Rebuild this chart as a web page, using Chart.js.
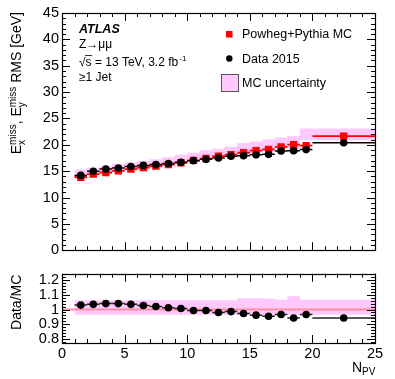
<!DOCTYPE html>
<html>
<head>
<meta charset="utf-8">
<script src="https://cdn.jsdelivr.net/npm/chart.js@4.4.0/dist/chart.umd.min.js"></script>
<style>
  html, body { margin: 0; padding: 0; background: #fff; }
  #wrap { position: relative; width: 395px; height: 379px; }
  #main { position: absolute; left: 0; top: 0; }
  #ratio { position: absolute; left: 0; top: 262px; }
</style>
</head>
<body>
<div id="wrap">
  <canvas id="main" width="395" height="262"></canvas>
  <canvas id="ratio" width="395" height="117"></canvas>
</div>
<script>
// N_PV bins
const binLo = [1, 2, 3, 4, 5, 6, 7, 8, 9, 10, 11, 12, 13, 14, 15, 16, 17, 18, 19, 20];
const binHi = [2, 3, 4, 5, 6, 7, 8, 9, 10, 11, 12, 13, 14, 15, 16, 17, 18, 19, 20, 25];
const binCentre = [1.5, 2.5, 3.5, 4.5, 5.5, 6.5, 7.5, 8.5, 9.5, 10.5, 11.5, 12.5, 13.5, 14.5, 15.5, 16.5, 17.5, 18.5, 19.5, 22.5];

// E_miss RMS [GeV]
const dataRms = [14.2, 15.0, 15.4, 15.6, 15.9, 16.1, 16.25, 16.45, 16.7, 17.0, 17.25, 17.5, 17.85, 17.95, 18.1, 18.2, 18.85, 18.9, 19.1, 20.4];
const mcRms = [13.85, 14.45, 14.75, 15.05, 15.4, 15.7, 15.95, 16.25, 16.6, 17.05, 17.4, 17.85, 18.15, 18.5, 18.9, 19.15, 19.6, 20.05, 19.85, 21.65];

// Data/MC and MC uncertainty band (relative)
const ratio = [1.03, 1.035, 1.04, 1.04, 1.035, 1.027, 1.02, 1.012, 1.007, 0.993, 0.993, 0.98, 0.986, 0.973, 0.962, 0.955, 0.966, 0.943, 0.966, 0.943];
const uncUp = [1.077, 1.062, 1.062, 1.062, 1.062, 1.062, 1.062, 1.062, 1.062, 1.062, 1.062, 1.062, 1.062, 1.062, 1.077, 1.077, 1.072, 1.066, 1.09, 1.066];
const uncDown = [0.966, 0.964, 0.964, 0.964, 0.964, 0.964, 0.964, 0.964, 0.964, 0.964, 0.964, 0.964, 0.964, 0.964, 0.964, 0.964, 0.964, 0.964, 0.964, 0.964];

const topTicks = [0, 5, 10, 15, 20, 25, 30, 35, 40, 45];
const ratioTicks = [0.8, 0.9, 1, 1.1, 1.2];

const FONT = "'Liberation Sans', Arial, Helvetica, sans-serif";
const PINK = "#ffc8ff";
Chart.defaults.font.family = FONT;
Chart.defaults.color = "#000";

// step edges for the band: bin low edges plus the last high edge
function bandPoints(vals) {
  const pts = binLo.map((lo, i) => ({ x: lo, y: vals[i] }));
  pts.push({ x: binHi[binHi.length - 1], y: vals[vals.length - 1] });
  return pts;
}
// horizontal bars spanning each bin
function binBars(vals) {
  const pts = [];
  vals.forEach((v, i) => {
    pts.push({ x: binLo[i], y: v }, { x: binHi[i], y: v }, { x: binHi[i], y: null });
  });
  return pts;
}
function points(vals) {
  return vals.map((v, i) => ({ x: binCentre[i], y: v }));
}

// ROOT style frame with inward ticks on all sides
const frameTicks = {
  id: "frameTicks",
  afterDraw(chart, args, o) {
    const { ctx, chartArea: a } = chart;
    const x = chart.scales.x, y = chart.scales.y;
    ctx.save();
    ctx.strokeStyle = "#000";
    ctx.lineWidth = 1;
    ctx.beginPath();
    for (let i = 0; i <= 25; i++) {
      const px = Math.round(x.getPixelForValue(i)) + 0.5;
      const len = i % 5 === 0 ? 8 : 4;
      ctx.moveTo(px, a.bottom); ctx.lineTo(px, a.bottom - len);
      ctx.moveTo(px, a.top); ctx.lineTo(px, a.top + len);
    }
    for (let k = o.kFrom; k <= o.kTo; k++) {
      const py = Math.round(y.getPixelForValue(k * o.step)) + 0.5;
      const len = k % o.every === 0 ? 8 : 4;
      ctx.moveTo(a.left, py); ctx.lineTo(a.left + len, py);
      ctx.moveTo(a.right, py); ctx.lineTo(a.right - len, py);
    }
    ctx.stroke();
    ctx.lineWidth = 1.2;
    ctx.strokeRect(Math.round(a.left) + 0.5, Math.round(a.top) + 0.5,
      Math.round(a.right - a.left), Math.round(a.bottom - a.top));
    ctx.restore();
  }
};

// texts, legend and axis titles of the main pad
const mainTexts = {
  id: "mainTexts",
  afterDraw(chart) {
    const ctx = chart.ctx;
    ctx.save();
    ctx.fillStyle = "#000";
    ctx.textBaseline = "alphabetic";
    ctx.font = "bold italic 12.5px " + FONT;
    ctx.fillText("ATLAS", 79, 33);
    ctx.font = "12px " + FONT;
    ctx.fillText("Z\u2192\u03bc\u03bc", 79, 48);
    const rad = ctx.measureText("\u221a").width;
    const sw = ctx.measureText("s").width;
    ctx.fillText("\u221as = 13 TeV, 3.2 fb", 79, 66);
    const w = ctx.measureText("\u221as = 13 TeV, 3.2 fb").width;
    ctx.strokeStyle = "#000"; ctx.lineWidth = 0.8;
    ctx.beginPath(); ctx.moveTo(79 + rad - 0.5, 55.5); ctx.lineTo(79 + rad + sw + 0.5, 55.5); ctx.stroke();
    ctx.font = "8px " + FONT;
    ctx.fillText("-1", 79 + w + 1, 61);
    ctx.font = "12px " + FONT;
    ctx.fillText("\u22651 Jet", 79, 81);

    // legend
    ctx.font = "12.5px " + FONT;
    ctx.textBaseline = "middle";
    ctx.fillStyle = "#ff0000";
    ctx.fillRect(226, 31, 6.5, 6.5);
    ctx.fillStyle = "#000";
    ctx.beginPath(); ctx.arc(229.3, 58.5, 3.2, 0, Math.PI * 2); ctx.fill();
    ctx.fillStyle = PINK;
    ctx.fillRect(221, 74, 17, 17.5);
    ctx.strokeStyle = "#555"; ctx.lineWidth = 1;
    ctx.strokeRect(221.5, 74.5, 17, 17);
    ctx.fillStyle = "#000";
    ctx.fillText("Powheg+Pythia MC", 242, 34.5);
    ctx.fillText("Data 2015", 242, 59.5);
    ctx.fillText("MC uncertainty", 242, 83.5);

    // y title, rotated, right end at the top of the frame
    const parts = [
      ["E", 14, 0], ["miss", 10, -5], ["x", 10, 4, true],
      [", E", 14, 0], ["miss", 10, -5], ["y", 10, 4, true],
      [" RMS [GeV]", 14, 0]
    ];
    const widths = parts.map(p => {
      ctx.font = p[1] + "px " + FONT;
      return ctx.measureText(p[0]).width;
    });
    // sub/superscript pairs share the same horizontal space
    const total = widths[0] + Math.max(widths[1], widths[2]) + widths[3] + Math.max(widths[4], widths[5]) + widths[6];
    ctx.translate(21, 12 + total);
    ctx.rotate(-Math.PI / 2);
    ctx.textBaseline = "alphabetic";
    let cx = 0;
    parts.forEach((p, i) => {
      ctx.font = p[1] + "px " + FONT;
      ctx.fillText(p[0], cx, p[2]);
      if (p[3]) cx += Math.max(widths[i - 1], widths[i]);
      else if (p[0] !== "miss") cx += widths[i];
    });
    ctx.restore();
  }
};

const ratioTexts = {
  id: "ratioTexts",
  afterDraw(chart) {
    const ctx = chart.ctx;
    const a = chart.chartArea;
    ctx.save();
    ctx.fillStyle = "#000";
    // y title
    ctx.font = "14px " + FONT;
    const w = ctx.measureText("Data/MC").width;
    ctx.translate(21, a.top + 1 + w);
    ctx.rotate(-Math.PI / 2);
    ctx.fillText("Data/MC", 0, 0);
    ctx.restore();
    // x title N_PV
    ctx.save();
    ctx.fillStyle = "#000";
    ctx.font = "14px " + FONT;
    ctx.textBaseline = "alphabetic";
    ctx.fillText("N", 352, 110);
    const nw = ctx.measureText("N").width;
    ctx.font = "10px " + FONT;
    ctx.fillText("PV", 352 + nw, 113);
    ctx.restore();
  }
};

const pointsFmt = (color, style, r) => ({
  showLine: false, pointStyle: style, pointRadius: r, pointHoverRadius: r,
  pointBackgroundColor: color, pointBorderColor: color, pointBorderWidth: 0
});
const barsFmt = (color, w) => ({
  borderColor: color, borderWidth: w, pointRadius: 0, spanGaps: false
});

new Chart(document.getElementById("main"), {
  type: "line",
  data: {
    datasets: [
      Object.assign({ data: points(dataRms), order: 1 }, pointsFmt("#000", "circle", 3.8)),
      Object.assign({ data: points(mcRms), order: 2 }, pointsFmt("#ff0000", "rect", 5.2)),
      Object.assign({ data: binBars(dataRms), order: 3 }, barsFmt("#000", 1.5)),
      Object.assign({ data: binBars(mcRms), order: 4 }, barsFmt("#ff0000", 1.8)),
      { data: bandPoints(mcRms.map((v, i) => v * uncUp[i])), stepped: "after", borderWidth: 0, pointRadius: 0, order: 11 },
      { data: bandPoints(mcRms.map((v, i) => v * uncDown[i])), stepped: "after", borderWidth: 0, pointRadius: 0,
        fill: "-1", backgroundColor: PINK, order: 10 }
    ]
  },
  options: {
    responsive: false,
    animation: false,
    layout: { padding: { left: 0, right: 20, top: 13, bottom: 3 } },
    scales: {
      x: { type: "linear", min: 0, max: 25, display: false },
      y: {
        min: 0, max: 45,
        grid: { display: false, drawTicks: false },
        border: { display: false },
        afterFit: s => { s.width = 62; },
        afterBuildTicks: s => { s.ticks = topTicks.map(v => ({ value: v })); },
        ticks: { padding: 3, autoSkip: false, font: { size: 14.5 } }
      }
    },
    plugins: {
      legend: { display: false },
      tooltip: { enabled: false },
      frameTicks: { kFrom: 0, kTo: 45, step: 1, every: 5 }
    }
  },
  plugins: [frameTicks, mainTexts]
});

new Chart(document.getElementById("ratio"), {
  type: "line",
  data: {
    datasets: [
      Object.assign({ data: points(ratio), order: 1 }, pointsFmt("#000", "circle", 3.8)),
      Object.assign({ data: binBars(ratio), order: 2 }, barsFmt("#222", 1.5)),
      { data: [{ x: 0, y: 1 }, { x: 25, y: 1 }], borderColor: "#ff8ea0", borderWidth: 2, pointRadius: 0, order: 5 },
      { data: bandPoints(uncUp), stepped: "after", borderWidth: 0, pointRadius: 0, order: 11 },
      { data: bandPoints(uncDown), stepped: "after", borderWidth: 0, pointRadius: 0,
        fill: "-1", backgroundColor: PINK, order: 10 }
    ]
  },
  options: {
    responsive: false,
    animation: false,
    layout: { padding: { left: 0, right: 20, top: 10, bottom: 0 } },
    scales: {
      x: {
        type: "linear", min: 0, max: 25,
        grid: { display: false, drawTicks: false },
        border: { display: false },
        afterFit: s => { s.height = 36; },
        ticks: { stepSize: 5, padding: 2, autoSkip: false, font: { size: 14.5 }, maxRotation: 0 }
      },
      y: {
        min: 0.774, max: 1.242,
        grid: { display: false, drawTicks: false },
        border: { display: false },
        afterFit: s => { s.width = 62; },
        afterBuildTicks: s => { s.ticks = ratioTicks.map(v => ({ value: v })); },
        ticks: { padding: 3, autoSkip: false, font: { size: 14.5 }, callback: v => (v === 1 ? "1" : v.toFixed(1)) }
      }
    },
    plugins: {
      legend: { display: false },
      tooltip: { enabled: false },
      frameTicks: { kFrom: 39, kTo: 62, step: 0.02, every: 5 }
    }
  },
  plugins: [frameTicks, ratioTexts]
});
</script>
</body>
</html>
